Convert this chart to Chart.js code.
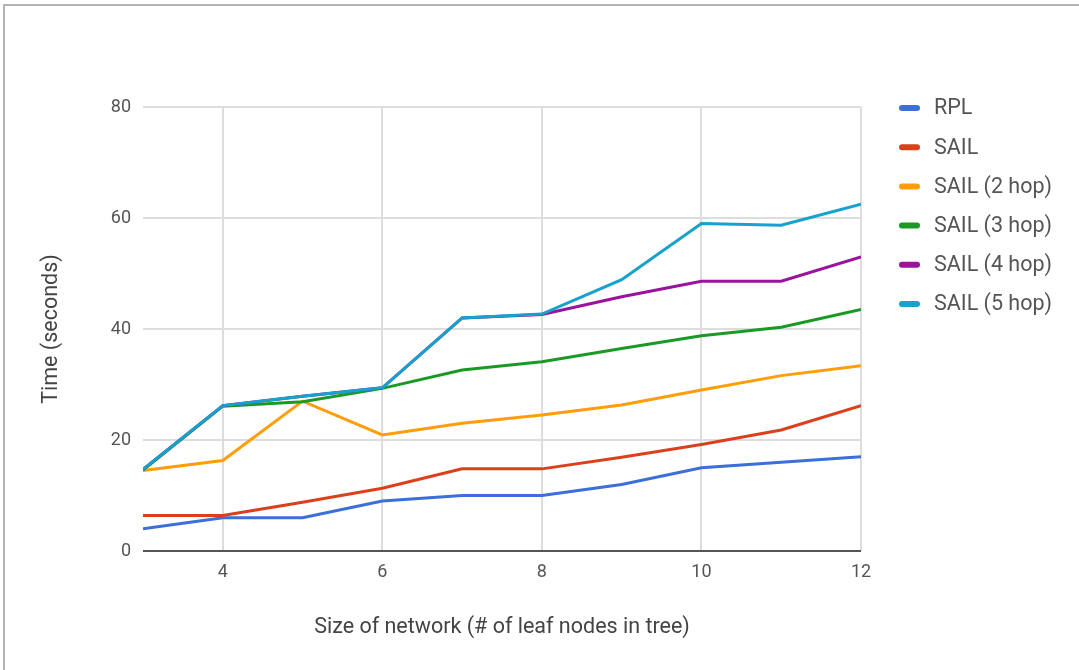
<!DOCTYPE html>
<html>
<head>
<meta charset="utf-8">
<title>Time vs. size of network</title>
<script src="https://cdn.jsdelivr.net/npm/chart.js@4/dist/chart.umd.min.js"></script>
<style>
  html, body { margin: 0; padding: 0; background: #fff; }
  #wrap { position: relative; width: 1079px; height: 670px; overflow: hidden; }
  #frame { position: absolute; left: 3px; top: 4px; right: -10px; bottom: -10px;
           border-top: 2px solid #b4b4b4; border-left: 2px solid #b4b4b4; pointer-events: none; }
  canvas { position: absolute; left: 0; top: 0; }
</style>
</head>
<body>
<div id="wrap">
  <canvas id="chart" width="1079" height="670"></canvas>
  <div id="frame"></div>
</div>
<script>
// Leaf nodes in the tree (x axis)
const leafNodes = [3, 4, 5, 6, 7, 8, 9, 10, 11, 12];

// Time in seconds for each protocol variant
const rpl      = [4, 6, 6, 9, 10, 10, 12, 15, 16, 17];
const sail     = [6.4, 6.4, 8.8, 11.3, 14.8, 14.8, 16.9, 19.2, 21.8, 26.2];
const sail2hop = [14.5, 16.3, 27.0, 20.9, 23.0, 24.5, 26.3, 29.0, 31.6, 33.4];
const sail3hop = [14.6, 26.1, 26.9, 29.3, 32.6, 34.1, 36.5, 38.8, 40.3, 43.5];
const sail4hop = [14.7, 26.2, 27.9, 29.4, 42.0, 42.6, 45.8, 48.6, 48.6, 53.0];
const sail5hop = [14.7, 26.2, 27.9, 29.4, 42.0, 42.7, 48.9, 59.0, 58.7, 62.5];

const seriesNames  = ['RPL', 'SAIL', 'SAIL (2 hop)', 'SAIL (3 hop)', 'SAIL (4 hop)', 'SAIL (5 hop)'];
const seriesValues = [rpl, sail, sail2hop, sail3hop, sail4hop, sail5hop];
const seriesColors = ['#3c6fd8', '#dc3f1c', '#ff9d0a', '#1a9a24', '#9a139c', '#16a2cc'];

// Axis ticks
const xTicks = [4, 6, 8, 10, 12];
const yTicks = [0, 20, 40, 60, 80];

const FONT = 'Roboto, "Noto Sans", sans-serif';
const LABEL_SIZE = 21.5;

const datasets = seriesNames.map((name, i) => ({
  label: name,
  data: leafNodes.map((x, j) => ({ x: x, y: seriesValues[i][j] })),
  borderColor: seriesColors[i],
  backgroundColor: seriesColors[i],
  borderWidth: 3,
  pointRadius: 0,
  tension: 0,
  fill: false,
  // later series sit on top of earlier ones
  order: seriesNames.length - 1 - i
}));

// Legend listed down the right side, one row per series
const sideLegend = {
  id: 'sideLegend',
  afterDraw(chart) {
    const ctx = chart.ctx;
    const x0 = 899, y0 = 108, step = 39.2;
    ctx.save();
    ctx.font = LABEL_SIZE + 'px ' + FONT;
    ctx.textBaseline = 'middle';
    ctx.textAlign = 'left';
    chart.data.datasets.forEach((ds, i) => {
      const y = y0 + i * step;
      ctx.fillStyle = ds.borderColor;
      ctx.beginPath();
      if (ctx.roundRect) ctx.roundRect(x0, y - 3, 21, 6, 3); else ctx.rect(x0, y - 3, 21, 6);
      ctx.fill();
      ctx.fillStyle = '#555';
      ctx.fillText(ds.label, x0 + 35, y + 1);
    });
    ctx.restore();
  }
};

new Chart(document.getElementById('chart'), {
  type: 'line',
  data: { datasets: datasets },
  options: {
    responsive: false,
    animation: false,
    events: [],
    layout: { padding: { left: 0, top: 107, right: 218, bottom: 0 } },
    plugins: { legend: { display: false }, tooltip: { enabled: false } },
    scales: {
      x: {
        type: 'linear',
        min: 3,
        max: 12,
        afterBuildTicks: s => { s.ticks = xTicks.map(v => ({ value: v })); },
        afterFit: s => { s.height = 119; },
        border: { display: false },
        grid: { color: '#dddddd', lineWidth: 2, drawTicks: false },
        ticks: { padding: 11, color: '#555', font: { family: FONT, size: 18 }, maxRotation: 0 },
        title: {
          display: true,
          text: 'Size of network (# of leaf nodes in tree)',
          color: '#444',
          font: { family: FONT, size: LABEL_SIZE },
          padding: { top: 0, bottom: 29 }
        }
      },
      y: {
        min: 0,
        max: 80,
        afterBuildTicks: s => { s.ticks = yTicks.map(v => ({ value: v })); },
        afterFit: s => { s.width = 143; },
        border: { display: false },
        grid: {
          color: c => (c.tick && c.tick.value === 0) ? '#555' : '#dddddd',
          lineWidth: 2,
          drawTicks: false
        },
        ticks: { padding: 12, color: '#555', font: { family: FONT, size: 18 } },
        title: {
          display: true,
          text: 'Time (seconds)',
          color: '#444',
          font: { family: FONT, size: LABEL_SIZE },
          padding: { top: 39, bottom: 0 }
        }
      }
    }
  },
  plugins: [sideLegend]
});
</script>
</body>
</html>
